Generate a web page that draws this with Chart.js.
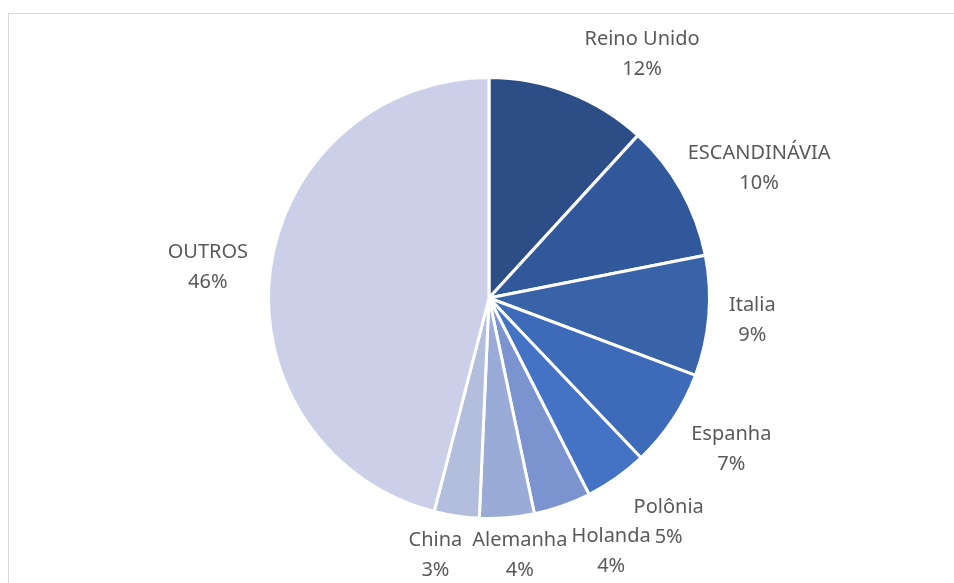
<!DOCTYPE html>
<html>
<head>
<meta charset="utf-8">
<script src="https://cdn.jsdelivr.net/npm/chart.js@4"></script>
<style>
  html, body { margin: 0; padding: 0; background: #fff; }
  #wrap { position: relative; width: 954px; height: 583px; overflow: hidden; }
  #frame { position: absolute; left: 8px; top: 13px; width: 960px; height: 600px;
           border-left: 1px solid #d9d9d9; border-top: 1px solid #d9d9d9; }
  canvas { position: absolute; left: 0; top: 0; }
</style>
</head>
<body>
<div id="wrap">
  <div id="frame"></div>
  <canvas id="chart" width="954" height="583"></canvas>
</div>
<script>
'use strict';

// ===== DATA =====
const countries = ['Reino Unido', 'ESCANDINÁVIA', 'Italia', 'Espanha', 'Polônia', 'Holanda', 'Alemanha', 'China', 'OUTROS'];
const shares = [11.8, 10.1, 8.8, 7.2, 4.6, 4.2, 4.0, 3.3, 46.0];
const sliceColors = ['#2d4d86', '#30589b', '#3863a9', '#3d6bba', '#4472c4', '#7b93cf', '#9aabd7', '#b3bedd', '#cbd0e8'];

// label block centres, in pie radii from the centre
const labelOffsets = [
  [0.694, -1.104], [1.225, -0.590], [1.194, 0.099], [1.099, 0.685],
  [0.815, 1.018], [0.554, 1.149], [0.140, 1.167], [-0.243, 1.167], [-1.275, -0.140]
];

const outsideLabels = {
  id: 'outsideLabels',
  afterDatasetsDraw(chart) {
    const ctx = chart.ctx;
    const meta = chart.getDatasetMeta(0);
    const total = shares.reduce((a, b) => a + b, 0);
    ctx.save();
    ctx.font = '20px "Noto Sans"';
    ctx.fillStyle = '#595959';
    ctx.textAlign = 'center';
    ctx.textBaseline = 'middle';
    meta.data.forEach((arc, i) => {
      const r = arc.outerRadius;
      const x = arc.x + labelOffsets[i][0] * r;
      const y = arc.y + labelOffsets[i][1] * r;
      const pct = Math.round(shares[i] / total * 100) + '%';
      ctx.fillText(countries[i], x, y - 15);
      ctx.fillText(pct, x, y + 15);
    });
    ctx.restore();
  }
};

new Chart(document.getElementById('chart'), {
  type: 'pie',
  data: {
    labels: countries,
    datasets: [{
      data: shares,
      backgroundColor: sliceColors,
      borderColor: '#ffffff',
      borderWidth: 3
    }]
  },
  options: {
    responsive: false,
    animation: false,
    layout: { padding: { top: 76, bottom: 63, left: 24, right: 0 } },
    plugins: {
      legend: { display: false },
      tooltip: { enabled: false }
    }
  },
  plugins: [outsideLabels]
});
</script>
</body>
</html>
